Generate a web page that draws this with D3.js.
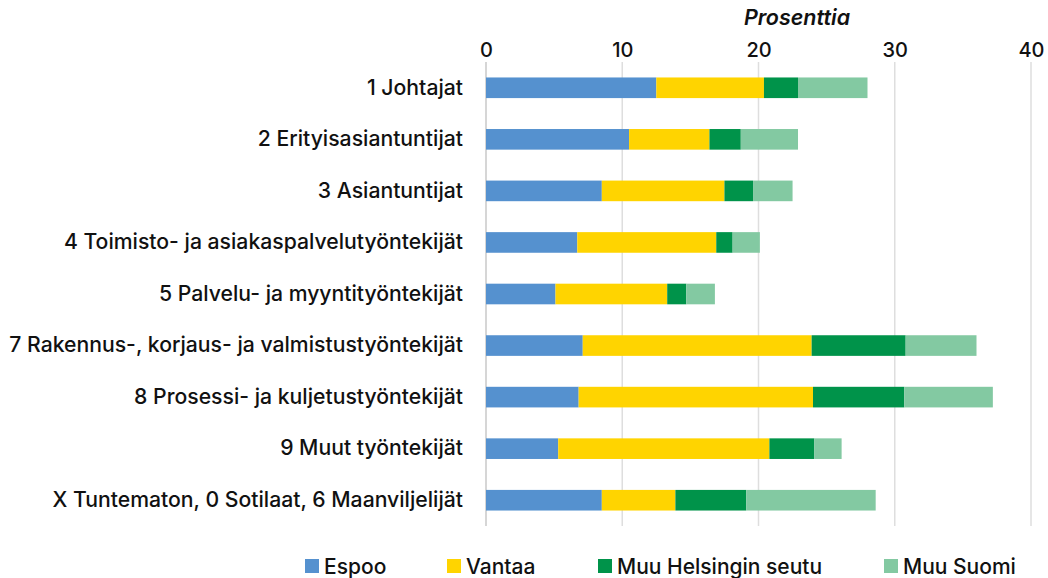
<!DOCTYPE html>
<html>
<head>
<meta charset="utf-8">
<script src="https://cdn.jsdelivr.net/npm/d3@7"></script>
<style>
  body { margin: 0; background: #fff; }
  text { font-family: Inter, "Noto Sans", sans-serif; fill: #111; }
</style>
</head>
<body>
<svg id="chart" width="1048" height="578"></svg>
<script>
"use strict";

var categories = [
	"1 Johtajat",
	"2 Erityisasiantuntijat",
	"3 Asiantuntijat",
	"4 Toimisto- ja asiakaspalvelutyöntekijät",
	"5 Palvelu- ja myyntityöntekijät",
	"7 Rakennus-, korjaus- ja valmistustyöntekijät",
	"8 Prosessi- ja kuljetustyöntekijät",
	"9 Muut työntekijät",
	"X Tuntematon, 0 Sotilaat, 6 Maanviljelijät"
];
var seriesNames = ["Espoo", "Vantaa", "Muu Helsingin seutu", "Muu Suomi"];
var espoo    = [12.5, 10.5, 8.5, 6.7, 5.1, 7.1, 6.8, 5.3, 8.5];
var vantaa   = [7.9, 5.9, 9.0, 10.2, 8.2, 16.8, 17.2, 15.5, 5.4];
var muuHki   = [2.5, 2.3, 2.1, 1.2, 1.4, 6.9, 6.7, 3.3, 5.2];
var muuSuomi = [5.1, 4.2, 2.9, 2.0, 2.1, 5.2, 6.5, 2.0, 9.5];
var xTicks = [0, 10, 20, 30, 40];
var colors = ["#5591cf", "#ffd400", "#00934a", "#83c9a2"];

var svg = d3.select("#chart");
var margin = {left: 486, right: 17, top: 62, bottom: 52};
var W = 1048, H = 578;

var x = d3.scaleLinear().domain([0, 40]).range([margin.left, W - margin.right]);
var y = d3.scaleBand().domain(categories).range([margin.top, H - margin.bottom]).paddingInner(0.6).paddingOuter(0.3);

var rows = categories.map(function(c, i){
	return {cat: c, "Espoo": espoo[i], "Vantaa": vantaa[i], "Muu Helsingin seutu": muuHki[i], "Muu Suomi": muuSuomi[i]};
});
var stacked = d3.stack().keys(seriesNames)(rows);

// grid
svg.append("g").selectAll("line")
	.data(xTicks)
	.enter().append("line")
	.attr("x1", function(d){ return x(d); })
	.attr("x2", function(d){ return x(d); })
	.attr("y1", margin.top)
	.attr("y2", H - margin.bottom)
	.attr("stroke", function(d){ return d === 0 ? "#c8c8c8" : "#dedede"; })
	.attr("stroke-width", 1.5);

// top axis labels
var xAxis = d3.axisTop(x).tickValues(xTicks).tickSize(0).tickPadding(0);
var gx = svg.append("g").attr("transform", "translate(0,57)").call(xAxis);
gx.select(".domain").remove();
gx.selectAll("text").style("font-family", "Inter, sans-serif").style("font-size", "20px").style("font-weight", 500).attr("fill", "#111");

svg.append("text")
	.attr("x", 797).attr("y", 25)
	.attr("text-anchor", "middle")
	.style("font-size", "21.5px").style("font-style", "italic").style("font-weight", 600)
	.text("Prosenttia");

// bars
svg.append("g").selectAll("g")
	.data(stacked)
	.enter().append("g")
	.attr("fill", function(d, i){ return colors[i]; })
	.selectAll("rect")
	.data(function(d){ return d; })
	.enter().append("rect")
	.attr("x", function(d){ return x(d[0]); })
	.attr("width", function(d){ return x(d[1]) - x(d[0]); })
	.attr("y", function(d){ return y(d.data.cat); })
	.attr("height", y.bandwidth());

// category labels
var yAxis = d3.axisLeft(y).tickSize(0).tickPadding(0);
var gy = svg.append("g").attr("transform", "translate(463,0)").call(yAxis);
gy.select(".domain").remove();
gy.selectAll("text").style("font-family", "Inter, sans-serif").style("font-size", "21.2px").style("font-weight", 500).attr("fill", "#111");

// legend
var legendX = [305, 447, 598, 884];
var leg = svg.append("g").selectAll("g")
	.data(seriesNames)
	.enter().append("g")
	.attr("transform", function(d, i){ return "translate(" + legendX[i] + ",559)"; });
leg.append("rect").attr("width", 14).attr("height", 14).attr("fill", function(d, i){ return colors[i]; });
leg.append("text").attr("x", 19).attr("y", 14.5).style("font-size", "21px").style("font-weight", 500).text(function(d){ return d; });
</script>
</body>
</html>
